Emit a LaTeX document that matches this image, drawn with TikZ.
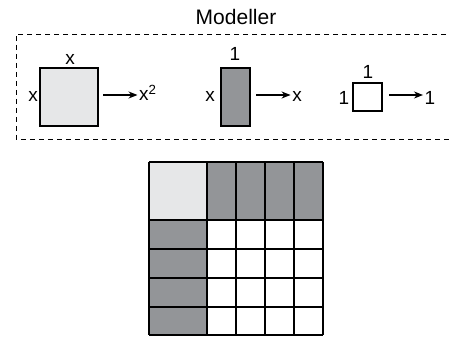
\documentclass[tikz,border=0pt]{standalone}
\usepackage{fontspec}
\setmainfont{Liberation Sans}
\usetikzlibrary{arrows.meta,positioning}
\definecolor{lightg}{HTML}{E6E7E8}
\definecolor{darkg}{HTML}{939598}
\begin{document}
\begin{tikzpicture}[x=1pt,y=-1pt,
  lbl/.style={inner sep=0pt,font=\fontsize{19}{19}\selectfont},
  tile/.style={draw=black,line width=1.3pt,inner sep=0pt},
  arr/.style={line width=1.2pt,shorten >=1.5pt,-{Stealth[length=9pt,width=7pt]}}]
\useasboundingbox (0,0) rectangle (450,337);
\node[inner sep=0pt,font=\fontsize{21}{21}\selectfont] (title) at (236,17) {Modeller};
\draw[dashed,dash pattern=on 5pt off 4pt,line width=0.9pt] (455,34) -- (16,34) -- (16,139) -- (455,139);
% x^2 tile
\node[tile,fill=lightg,minimum width=58pt,minimum height=58pt] (sq) at (69,97) {};
\node[lbl] (sqt) at (70,59) {x};
\node[lbl] (sql) at (33,96) {x};
\coordinate (a1s) at (103,95);
\node[lbl,anchor=base west] (sqr) at (139,100.9) {x\textsuperscript{2}};
\draw[arr] (a1s) -- (a1s -| sqr.west);
% x tile
\node[tile,fill=darkg,minimum width=29pt,minimum height=58pt] (rc) at (235.5,97) {};
\node[lbl] (rct) at (235,54) {1};
\node[lbl] (rcl) at (210,96) {x};
\coordinate (a2s) at (256,95);
\node[lbl] (rcr) at (297,96) {x};
\draw[arr] (a2s) -- (a2s -| rcr.west);
% 1 tile
\node[tile,fill=white,minimum width=29pt,minimum height=28pt] (un) at (367.5,97) {};
\node[lbl] (unt) at (368,72) {1};
\node[lbl] (unl) at (344,98) {1};
\coordinate (a3s) at (389,95);
\node[lbl] (unr) at (430,98) {1};
\draw[arr] (a3s) -- (a3s -| unr.west);
% grid
\fill[lightg] (149,162) rectangle (207,220);
\fill[darkg] (207,162) rectangle (323,220);
\fill[darkg] (149,220) rectangle (207,335);
\foreach \y in {162,220,249,278,307,335} \draw[line width=1.3pt] (149,\y) -- (323,\y);
\foreach \x in {149,207,236,265,294,323} \draw[line width=1.3pt] (\x,162) -- (\x,335);
\end{tikzpicture}
\end{document}
